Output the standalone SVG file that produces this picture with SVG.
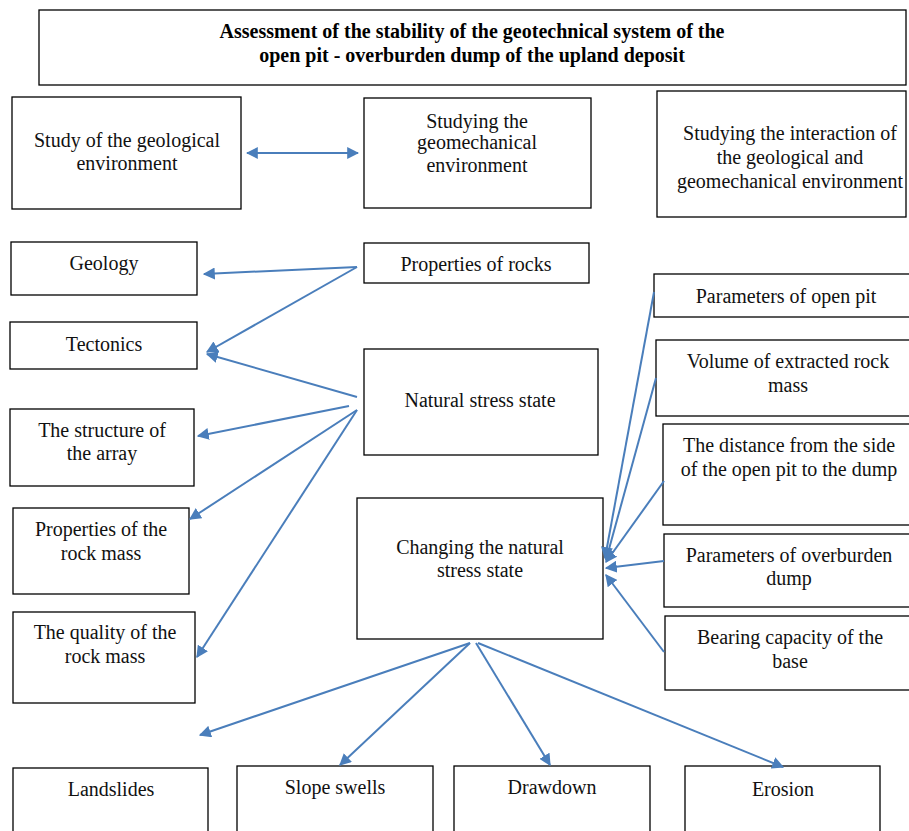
<svg xmlns="http://www.w3.org/2000/svg" width="909" height="831" viewBox="0 0 909 831">
<defs>
<style>
.box{fill:#fff;stroke:#000;stroke-width:1.3}
.t{font-family:"Liberation Serif","Times New Roman",serif;font-size:20px;fill:#111;text-anchor:middle}
.h{font-family:"Liberation Serif","Times New Roman",serif;font-size:20px;font-weight:bold;fill:#000;text-anchor:middle}
.c{stroke:#4a7ebb;stroke-width:2;fill:none}
</style>
<marker id="ah" viewBox="0 0 10 10" refX="9" refY="5" markerWidth="6" markerHeight="6" orient="auto-start-reverse" markerUnits="strokeWidth">
<path d="M0,0 L10,5 L0,10 z" fill="#4a7ebb"/>
</marker>
</defs>
<rect width="909" height="831" fill="#fff"/>

<g id="title"><rect class="box" x="39" y="10" width="867" height="75"/>
<text class="h" x="472" y="38">Assessment of the stability of the geotechnical system of the</text>
<text class="h" x="472" y="62">open pit - overburden dump of the upland deposit</text></g>

<g id="geoenv"><rect class="box" x="12" y="97" width="229" height="112"/>
<text class="t" x="127" y="147">Study of the geological</text>
<text class="t" x="127" y="170">environment</text></g>

<g id="geomech"><rect class="box" x="364" y="98" width="227" height="110"/>
<text class="t" x="477" y="128">Studying the</text>
<text class="t" x="477" y="149">geomechanical</text>
<text class="t" x="477" y="172">environment</text></g>

<g id="interact"><rect class="box" x="657" y="91" width="249" height="126"/>
<text class="t" x="790" y="140">Studying the interaction of</text>
<text class="t" x="790" y="164">the geological and</text>
<text class="t" x="790" y="188">geomechanical environment</text></g>

<g id="geology"><rect class="box" x="11" y="242" width="186" height="53"/>
<text class="t" x="104" y="270">Geology</text></g>

<g id="rocks"><rect class="box" x="364" y="243" width="225" height="40"/>
<text class="t" x="476" y="271">Properties of rocks</text></g>

<g id="tectonics"><rect class="box" x="10" y="322" width="187" height="47"/>
<text class="t" x="104" y="351">Tectonics</text></g>

<g id="natural"><rect class="box" x="364" y="349" width="234" height="106"/>
<text class="t" x="480" y="407">Natural stress state</text></g>

<g id="structure"><rect class="box" x="10" y="409" width="184" height="77"/>
<text class="t" x="102" y="437">The structure of</text>
<text class="t" x="102" y="460">the array</text></g>

<g id="propmass"><rect class="box" x="13" y="508" width="176" height="86"/>
<text class="t" x="101" y="536">Properties of the</text>
<text class="t" x="101" y="560">rock mass</text></g>

<g id="quality"><rect class="box" x="13" y="612" width="182" height="91"/>
<text class="t" x="105" y="639">The quality of the</text>
<text class="t" x="105" y="663">rock mass</text></g>

<g id="changing"><rect class="box" x="357" y="498" width="246" height="141"/>
<text class="t" x="480" y="554">Changing the natural</text>
<text class="t" x="480" y="577">stress state</text></g>

<g id="openpit"><rect class="box" x="654" y="274" width="258" height="43"/>
<text class="t" x="786" y="303">Parameters of open pit</text></g>

<g id="volume"><rect class="box" x="656" y="340" width="256" height="76"/>
<text class="t" x="788" y="368">Volume of extracted rock</text>
<text class="t" x="788" y="392">mass</text></g>

<g id="distance"><rect class="box" x="663" y="424" width="249" height="101"/>
<text class="t" x="789" y="452">The distance from the side</text>
<text class="t" x="789" y="476">of the open pit to the dump</text></g>

<g id="dump"><rect class="box" x="664" y="534" width="248" height="73"/>
<text class="t" x="789" y="562">Parameters of overburden</text>
<text class="t" x="789" y="585">dump</text></g>

<g id="bearing"><rect class="box" x="665" y="616" width="247" height="74"/>
<text class="t" x="790" y="644">Bearing capacity of the</text>
<text class="t" x="790" y="668">base</text></g>

<g id="landslides"><rect class="box" x="13" y="768" width="195" height="70"/>
<text class="t" x="111" y="796">Landslides</text></g>

<g id="swells"><rect class="box" x="237" y="766" width="196" height="72"/>
<text class="t" x="335" y="794">Slope swells</text></g>

<g id="drawdown"><rect class="box" x="454" y="766" width="196" height="72"/>
<text class="t" x="552" y="794">Drawdown</text></g>

<g id="erosion"><rect class="box" x="685" y="766" width="195" height="72"/>
<text class="t" x="783" y="796">Erosion</text></g>

<g id="connectors">
<line class="c" x1="247" y1="153" x2="358" y2="153" marker-start="url(#ah)" marker-end="url(#ah)"/>
<line class="c" x1="357" y1="267" x2="204" y2="274" marker-end="url(#ah)"/>
<line class="c" x1="357" y1="267" x2="207" y2="352" marker-end="url(#ah)"/>
<line class="c" x1="357" y1="397" x2="207" y2="354" marker-end="url(#ah)"/>
<line class="c" x1="349" y1="406" x2="198" y2="436" marker-end="url(#ah)"/>
<line class="c" x1="357" y1="410" x2="190" y2="519" marker-end="url(#ah)"/>
<line class="c" x1="357" y1="410" x2="197" y2="657" marker-end="url(#ah)"/>
<line class="c" x1="654" y1="292" x2="605" y2="558" marker-end="url(#ah)"/>
<line class="c" x1="656" y1="378" x2="606" y2="560" marker-end="url(#ah)"/>
<line class="c" x1="664" y1="481" x2="606" y2="562" marker-end="url(#ah)"/>
<line class="c" x1="664" y1="561" x2="606" y2="568" marker-end="url(#ah)"/>
<line class="c" x1="664" y1="652" x2="606" y2="575" marker-end="url(#ah)"/>
<line class="c" x1="470" y1="643" x2="200" y2="735" marker-end="url(#ah)"/>
<line class="c" x1="470" y1="643" x2="340" y2="765" marker-end="url(#ah)"/>
<line class="c" x1="476" y1="643" x2="550" y2="765" marker-end="url(#ah)"/>
<line class="c" x1="478" y1="643" x2="783" y2="767" marker-end="url(#ah)"/>
</g>
</svg>
